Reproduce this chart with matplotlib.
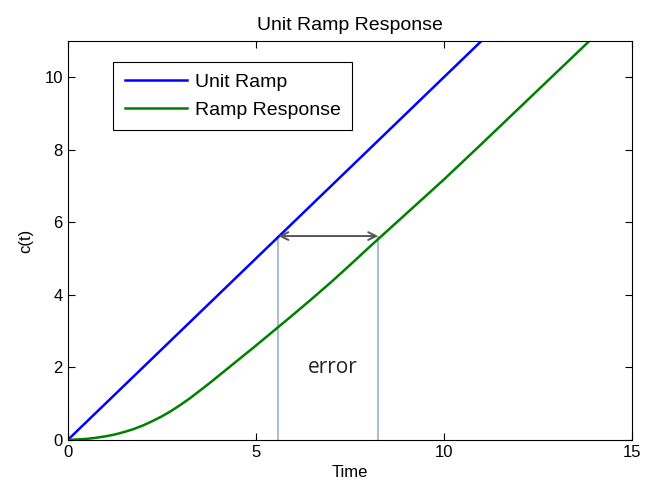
import numpy as np
import matplotlib
matplotlib.use("Agg")
import matplotlib.pyplot as plt

plt.rcParams['font.family'] = ['Liberation Sans', 'DejaVu Sans']

# unit ramp input
ramp_t = [0, 15]
ramp_c = [0, 15]

# ramp response
resp_t = [0, 0.5, 0.75, 1, 1.25, 1.5, 1.75, 2, 2.25, 2.5, 2.75, 3, 3.25, 3.5,
          3.75, 4, 4.5, 5, 5.5, 6, 6.5, 7, 7.5, 8, 8.5, 9, 9.5, 10, 11, 12,
          13, 14, 15]
resp_c = [0, 0.03, 0.06, 0.1, 0.15, 0.22, 0.3, 0.4, 0.52, 0.65, 0.8, 0.97,
          1.15, 1.35, 1.55, 1.76, 2.18, 2.6, 3.03, 3.46, 3.9, 4.35, 4.82,
          5.3, 5.77, 6.24, 6.71, 7.18, 8.16, 9.15, 10.14, 11.13, 12.12]

# error marker
err_t0 = 5.6
err_t1 = 8.25
err_level = 5.62

fig = plt.figure(figsize=(6.45, 4.98), dpi=100)
ax = fig.add_axes([0.105, 0.1165, 0.875, 0.8015])

ax.plot(ramp_t, ramp_c, color='#0000ff', lw=1.8, label='Unit Ramp')
ax.plot(resp_t, resp_c, color='#008000', lw=1.8, label='Ramp Response')

ax.vlines([err_t0, err_t1], 0, err_level, color='#a8bfd6', lw=1.5, zorder=1)
ax.annotate('', xy=(err_t1, err_level), xytext=(err_t0, err_level),
            arrowprops=dict(arrowstyle='<->', color='#555555', lw=1.4,
                            shrinkA=0, shrinkB=0, mutation_scale=14))
ax.text(7.05, 2.0, 'error', fontsize=15, family=['Open Sans', 'DejaVu Sans'],
        ha='center', va='center', color='#222222')

ax.set_xlim(0, 15)
ax.set_ylim(0, 11)
ax.set_xticks([0, 5, 10, 15])
ax.set_yticks([0, 2, 4, 6, 8, 10])
ax.tick_params(direction='in', top=True, right=True, length=5, labelsize=12)
ax.set_xlabel('Time', fontsize=12, labelpad=4)
ax.set_ylabel('c(t)', fontsize=12, labelpad=8)
ax.set_title('Unit Ramp Response', fontsize=14, pad=8)

leg = ax.legend(loc='upper left', bbox_to_anchor=(0.08, 0.947), borderaxespad=0,
                fontsize=14, handlelength=3.2, handletextpad=0.4,
                labelspacing=0.5, borderpad=0.6, frameon=True, fancybox=False,
                edgecolor='black', framealpha=1)
leg.get_frame().set_linewidth(0.8)

fig.savefig('out.png', dpi=100)
